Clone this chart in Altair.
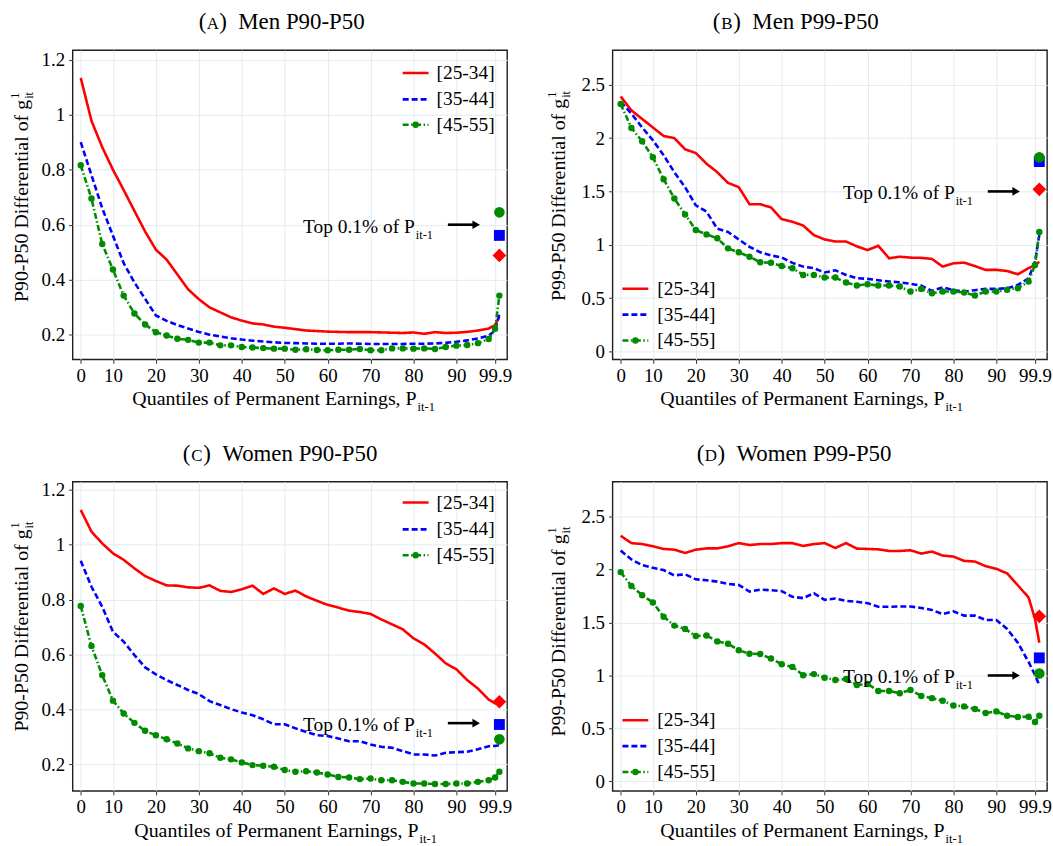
import altair as alt
import pandas as pd

FONT = "Liberation Serif"

# Age groups, their colours, dash patterns and the top-0.1% marker styles
GROUPS = ["[25-34]", "[35-44]", "[45-55]"]
COLORS = ["#ff0000", "#0000ff", "#008b00"]
DASHES = [[1, 0], [6, 3], [6, 2.5, 1.5, 2.5]]
MARKER_SHAPES = ["diamond", "square", "circle"]
MARKER_SIZES = [190, 120, 115]

# Quantile groups of permanent earnings (last two: P99-P99.9 and the top bin)
QUANTILES = [2.5, 5, 7.5, 10, 12.5, 15, 17.5, 20, 22.5, 25, 27.5, 30, 32.5, 35,
             37.5, 40, 42.5, 45, 47.5, 50, 52.5, 55, 57.5, 60, 62.5, 65, 67.5,
             70, 72.5, 75, 77.5, 80, 82.5, 85, 87.5, 90, 92.5, 95, 97.5, 99, 100]
TOP_X = 100
X_TICKS = [2.5, 10, 20, 30, 40, 50, 60, 70, 80, 90, 99]
X_TICK_LABELS = ["0", "10", "20", "30", "40", "50", "60", "70", "80", "90", "99.9"]
X_DOMAIN = [0.6, 101.8]

# (A) Men P90-P50
MEN_P90_25 = [1.134, 0.978, 0.882, 0.800, 0.726, 0.650, 0.575, 0.509,
              0.473, 0.419, 0.365, 0.329, 0.299, 0.281, 0.263, 0.251,
              0.241, 0.237, 0.229, 0.225, 0.220, 0.215, 0.213, 0.211,
              0.210, 0.209, 0.209, 0.209, 0.208, 0.207, 0.206, 0.208,
              0.203, 0.209, 0.206, 0.207, 0.210, 0.215, 0.222, 0.235, 0.265]
MEN_P90_35 = [0.900, 0.780, 0.660, 0.560, 0.460, 0.390, 0.330, 0.270,
              0.250, 0.235, 0.222, 0.210, 0.200, 0.193, 0.187, 0.182,
              0.178, 0.175, 0.172, 0.170, 0.169, 0.168, 0.167, 0.167,
              0.167, 0.168, 0.167, 0.166, 0.166, 0.166, 0.166, 0.167,
              0.167, 0.168, 0.170, 0.174, 0.179, 0.186, 0.196, 0.215, 0.275]
MEN_P90_45 = [0.816, 0.695, 0.530, 0.437, 0.342, 0.277, 0.237, 0.209,
              0.197, 0.185, 0.181, 0.171, 0.171, 0.161, 0.161, 0.155,
              0.153, 0.151, 0.149, 0.149, 0.145, 0.147, 0.144, 0.143,
              0.145, 0.145, 0.148, 0.143, 0.143, 0.150, 0.150, 0.149,
              0.150, 0.148, 0.155, 0.160, 0.162, 0.169, 0.184, 0.221, 0.342]
MEN_P90_TOP = [0.488, 0.561, 0.645]

# (B) Men P99-P50
MEN_P99_25 = [2.39, 2.26, 2.18, 2.10, 2.02, 2.00, 1.895, 1.86,
              1.76, 1.68, 1.58, 1.54, 1.38, 1.38, 1.35, 1.24,
              1.215, 1.18, 1.09, 1.05, 1.03, 1.03, 0.985, 0.95,
              0.99, 0.873, 0.888, 0.879, 0.877, 0.867, 0.795, 0.826,
              0.832, 0.80, 0.764, 0.764, 0.754, 0.723, 0.78, 0.81, 0.84]
MEN_P99_35 = [2.34, 2.23, 2.10, 1.98, 1.84, 1.68, 1.54, 1.37,
              1.31, 1.15, 1.12, 1.05, 0.98, 0.93, 0.90, 0.88,
              0.83, 0.795, 0.78, 0.74, 0.76, 0.717, 0.686, 0.68,
              0.667, 0.655, 0.648, 0.633, 0.617, 0.567, 0.60, 0.574,
              0.561, 0.574, 0.586, 0.586, 0.592, 0.623, 0.686, 0.84, 1.09]
MEN_P99_45 = [2.32, 2.095, 1.97, 1.82, 1.615, 1.434, 1.284, 1.138,
              1.097, 1.06, 0.966, 0.929, 0.888, 0.835, 0.832, 0.80,
              0.779, 0.717, 0.717, 0.692, 0.692, 0.645, 0.617, 0.63,
              0.617, 0.617, 0.608, 0.561, 0.586, 0.545, 0.561, 0.561,
              0.552, 0.524, 0.561, 0.561, 0.577, 0.592, 0.655, 0.81, 1.12]
MEN_P99_TOP = [1.52, 1.78, 1.82]

# (C) Women P90-P50
WOM_P90_25 = [1.127, 1.048, 1.005, 0.969, 0.945, 0.914, 0.886, 0.868,
              0.852, 0.851, 0.845, 0.843, 0.852, 0.832, 0.828, 0.838,
              0.851, 0.821, 0.841, 0.821, 0.833, 0.812, 0.796, 0.781,
              0.771, 0.760, 0.755, 0.748, 0.728, 0.710, 0.692, 0.659,
              0.637, 0.604, 0.568, 0.546, 0.507, 0.476, 0.436, 0.422, 0.428]
WOM_P90_35 = [0.942, 0.847, 0.774, 0.683, 0.647, 0.598, 0.553, 0.528,
              0.507, 0.489, 0.471, 0.456, 0.430, 0.416, 0.401, 0.389,
              0.379, 0.364, 0.346, 0.346, 0.331, 0.318, 0.306, 0.303,
              0.294, 0.284, 0.284, 0.272, 0.264, 0.260, 0.248, 0.236,
              0.236, 0.232, 0.242, 0.244, 0.246, 0.255, 0.266, 0.267, 0.270]
WOM_P90_45 = [0.777, 0.631, 0.525, 0.432, 0.385, 0.351, 0.322, 0.306,
              0.291, 0.276, 0.258, 0.248, 0.240, 0.224, 0.218, 0.207,
              0.197, 0.195, 0.191, 0.179, 0.173, 0.175, 0.170, 0.163,
              0.154, 0.152, 0.146, 0.148, 0.142, 0.142, 0.136, 0.130,
              0.130, 0.128, 0.128, 0.130, 0.130, 0.136, 0.142, 0.152, 0.173]
WOM_P90_TOP = [0.428, 0.345, 0.291]

# (D) Women P99-P50
WOM_P99_25 = [2.319, 2.250, 2.241, 2.220, 2.195, 2.188, 2.157, 2.188,
              2.200, 2.200, 2.220, 2.250, 2.232, 2.241, 2.241, 2.250,
              2.250, 2.223, 2.241, 2.250, 2.204, 2.250, 2.198, 2.195,
              2.191, 2.176, 2.176, 2.182, 2.151, 2.170, 2.132, 2.123,
              2.082, 2.076, 2.032, 2.007, 1.964, 1.852, 1.736, 1.534, 1.309]
WOM_P99_35 = [2.179, 2.095, 2.042, 2.017, 1.995, 1.945, 1.955, 1.908,
              1.900, 1.886, 1.864, 1.855, 1.792, 1.811, 1.805, 1.796,
              1.743, 1.730, 1.777, 1.714, 1.727, 1.705, 1.696, 1.683,
              1.649, 1.649, 1.652, 1.652, 1.637, 1.618, 1.580, 1.605,
              1.565, 1.565, 1.524, 1.524, 1.440, 1.309, 1.128, 1.004, 0.910]
WOM_P99_45 = [1.976, 1.845, 1.758, 1.690, 1.555, 1.471, 1.440, 1.372,
              1.378, 1.322, 1.300, 1.238, 1.206, 1.203, 1.160, 1.106,
              1.081, 1.003, 1.013, 0.979, 0.957, 0.966, 0.910, 0.920,
              0.854, 0.854, 0.832, 0.863, 0.807, 0.786, 0.761, 0.717,
              0.708, 0.683, 0.645, 0.661, 0.620, 0.608, 0.611, 0.561, 0.620]
WOM_P99_TOP = [1.559, 1.166, 1.019]

# "Top 0.1%" annotation: text end and arrow span on the quantile axis
NOTE_TEXT_X = 80.3
ARROW_X = [88.0, 94.6]

PANEL_W, PANEL_H = 437, 311
ONE = pd.DataFrame({"k": [0]})


def label_expr(values, labels):
    expr = "''"
    for v, lab in reversed(list(zip(values, labels))):
        expr = f"datum.value == {v} ? '{lab}' : ({expr})"
    return expr


def piece(txt, x, y, size, align="left", angle=0, dx=0, dy=0, baseline="alphabetic"):
    return alt.Chart(ONE).mark_text(
        text=txt, font=FONT, fontSize=size, align=align, baseline=baseline,
        angle=angle, dx=dx, dy=dy, color="black",
    ).encode(x=alt.value(x), y=alt.value(y))


def panel(p):
    xs = alt.Scale(domain=X_DOMAIN, nice=False, zero=False)
    ys = alt.Scale(domain=p["ydomain"], nice=False, zero=False)
    x_axis = alt.Axis(values=X_TICKS, labelExpr=label_expr(X_TICKS, X_TICK_LABELS),
                      title=None, grid=True, labelFlush=False, labelOverlap=False)
    y_axis = alt.Axis(values=p["yticks"], format="~g", title=None, grid=True,
                      labelOverlap=False)

    rows = []
    for g, series in zip(GROUPS, p["series"]):
        for q, v in zip(QUANTILES, series):
            rows.append({"q": q, "v": v, "group": g})
    df = pd.DataFrame(rows)

    xq = alt.X("q:Q", scale=xs, axis=x_axis)
    yv = alt.Y("v:Q", scale=ys, axis=y_axis)

    layers = []
    layers.append(
        alt.Chart(df).mark_line(strokeWidth=2.6).encode(
            x=xq, y=yv,
            color=alt.Color("group:N", scale=alt.Scale(domain=GROUPS, range=COLORS), legend=None),
            strokeDash=alt.StrokeDash("group:N", scale=alt.Scale(domain=GROUPS, range=DASHES), legend=None),
        )
    )
    layers.append(
        alt.Chart(df[df["group"] == GROUPS[2]]).mark_circle(
            size=42, color=COLORS[2], opacity=1
        ).encode(x=xq, y=yv)
    )
    # markers for the top 0.1% of permanent earnings
    for c, sh, sz, val in zip(COLORS, MARKER_SHAPES, MARKER_SIZES, p["top"]):
        layers.append(
            alt.Chart(pd.DataFrame({"q": [TOP_X], "v": [val]})).mark_point(
                shape=sh, size=sz, filled=True, color=c, opacity=1
            ).encode(x=xq, y=yv)
        )

    # annotation with arrow
    note = pd.DataFrame({"q": [NOTE_TEXT_X], "v": [p["note_y"]]})
    layers.append(alt.Chart(note).mark_text(
        text="Top 0.1% of P", font=FONT, fontSize=19.5, align="right",
        baseline="alphabetic", dy=8, color="black").encode(x=xq, y=yv))
    layers.append(alt.Chart(note).mark_text(
        text="it-1", font=FONT, fontSize=12.5, align="left",
        baseline="alphabetic", dx=1, dy=14, color="black").encode(x=xq, y=yv))
    arrow = pd.DataFrame({"q": [ARROW_X[0]], "q1": [ARROW_X[1]], "v": [p["note_y"]]})
    layers.append(alt.Chart(arrow).mark_rule(strokeWidth=2.6, color="black").encode(
        x=xq, x2="q1:Q", y=yv))
    head = pd.DataFrame({"q": [ARROW_X[1]], "v": [p["note_y"]]})
    layers.append(alt.Chart(head).mark_point(
        shape="triangle-right", filled=True, size=75, color="black", opacity=1).encode(
        x=xq, y=yv))

    # legend
    sx0, sx1, lx = p["legend_x"]
    for i, (g, c, d) in enumerate(zip(GROUPS, COLORS, DASHES)):
        ly = p["legend_y"][i]
        layers.append(alt.Chart(ONE).mark_rule(strokeWidth=2.6, color=c, strokeDash=d).encode(
            x=alt.value(sx0), x2=alt.value(sx1), y=alt.value(ly)))
        layers.append(piece(g, lx, ly, 19.5, align="left", baseline="middle"))
    layers.append(alt.Chart(ONE).mark_circle(size=42, color=COLORS[2], opacity=1).encode(
        x=alt.value((sx0 + sx1) / 2), y=alt.value(p["legend_y"][2])))

    # panel title with small-caps letter
    tx, ty = p["title_x"], -21
    layers.append(piece("(", tx - 6.5, ty, 23, align="right"))
    layers.append(piece(p["letter"], tx, ty, 17, align="center"))
    layers.append(piece(")\u00a0\u00a0" + p["title"], tx + 6.5, ty, 23, align="left"))

    # y-axis title
    yx, yy = p["ytitle_pos"]
    layers.append(piece(p["ytitle"], yx, yy, 20, align="right", angle=270))
    layers.append(piece("1", yx, yy, 12.5, align="left", angle=270, dx=1, dy=-9))
    layers.append(piece("it", yx, yy, 12.5, align="left", angle=270, dx=1, dy=5))

    # x-axis title
    xx = p["xtitle_x"]
    layers.append(piece("Quantiles of Permanent Earnings, P", xx, PANEL_H + 46, 20, align="right"))
    layers.append(piece("it-1", xx + 1, PANEL_H + 46, 12.5, align="left", dy=6))

    return alt.layer(*layers).properties(width=PANEL_W, height=PANEL_H)


P90_TICKS = [0.2, 0.4, 0.6, 0.8, 1.0, 1.2]
P99_TICKS = [0, 0.5, 1.0, 1.5, 2.0, 2.5]
TOP_LEGEND = ([332, 358, 366], [23, 49.5, 75])
BOTTOM_LEGEND = ([10, 36, 45], [240, 266, 292])

panels = [
    dict(letter="A", title="Men P90-P50", title_x=141, ydomain=[0.11, 1.235], yticks=P90_TICKS,
         series=[MEN_P90_25, MEN_P90_35, MEN_P90_45], top=MEN_P90_TOP, note_y=0.6,
         legend_x=TOP_LEGEND[0], legend_y=TOP_LEGEND[1],
         ytitle="P90-P50 Differential of g", ytitle_pos=(-45, 50), xtitle_x=346),
    dict(letter="B", title="Men P99-P50", title_x=115, ydomain=[-0.075, 2.825], yticks=P99_TICKS,
         series=[MEN_P99_25, MEN_P99_35, MEN_P99_45], top=MEN_P99_TOP, note_y=1.5,
         legend_x=BOTTOM_LEGEND[0], legend_y=BOTTOM_LEGEND[1],
         ytitle="P99-P50 Differential of g", ytitle_pos=(-48, 49), xtitle_x=334),
    dict(letter="C", title="Women P90-P50", title_x=125, ydomain=[0.103, 1.23], yticks=P90_TICKS,
         series=[WOM_P90_25, WOM_P90_35, WOM_P90_45], top=WOM_P90_TOP, note_y=0.35,
         legend_x=TOP_LEGEND[0], legend_y=[21, 48, 74],
         ytitle="P90-P50 Differential of g", ytitle_pos=(-45, 48), xtitle_x=348),
    dict(letter="D", title="Women P99-P50", title_x=99, ydomain=[-0.09, 2.83], yticks=P99_TICKS,
         series=[WOM_P99_25, WOM_P99_35, WOM_P99_45], top=WOM_P99_TOP, note_y=1.0,
         legend_x=BOTTOM_LEGEND[0], legend_y=BOTTOM_LEGEND[1],
         ytitle="P99-P50 Differential of g", ytitle_pos=(-48, 53), xtitle_x=334),
]

charts = [panel(p) for p in panels]

chart = alt.vconcat(
    alt.hconcat(charts[0], charts[1], spacing=32),
    alt.hconcat(charts[2], charts[3], spacing=32),
    spacing=27,
).properties(
    padding={"left": 8, "top": 8, "right": 0, "bottom": 0},
    background="white",
).configure_view(
    stroke="#1f1f1f", strokeWidth=1.4,
).configure_axis(
    labelFont=FONT, labelFontSize=19, labelColor="black",
    tickColor="#333333", tickSize=4, domain=False,
    gridColor="#e2ecee", gridWidth=1,
).configure_axisX(labelPadding=3).configure_axisY(labelPadding=4)

chart.save("out.html", embed_options={"renderer": "svg", "actions": False})
